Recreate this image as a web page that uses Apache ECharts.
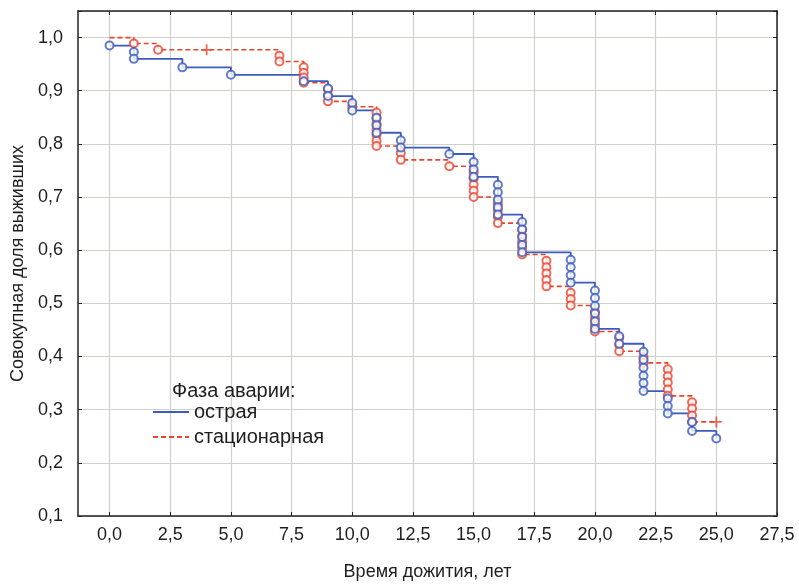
<!DOCTYPE html>
<html><head><meta charset="utf-8">
<script src="https://cdn.jsdelivr.net/npm/echarts@6/dist/echarts.min.js"></script>
<style>html,body{margin:0;padding:0;background:#fff}#c{width:799px;height:586px}</style>
</head><body><div id="c"></div>
<script>
// ---- data ----
const xTicks = [0, 2.5, 5, 7.5, 10, 12.5, 15, 17.5, 20, 22.5, 25, 27.5];
const yTicks = [0.1, 0.2, 0.3, 0.4, 0.5, 0.6, 0.7, 0.8, 0.9, 1.0];

const seriesNames = ['острая', 'стационарная'];

// Kaplan–Meier steps: [time, cumulative survival]
const acuteSteps = [[0,0.985],[1,0.960],[3,0.944],[5,0.930],[8,0.918],[9,0.890],[10,0.863],[11,0.821],[12,0.793],[14,0.781],[15,0.738],[16,0.667],[17,0.596],[19,0.539],[20,0.452],[21,0.424],[22,0.335],[23,0.293],[24,0.260],[25,0.246]];
const statSteps = [[0,1.000],[1,0.989],[2,0.977],[7,0.955],[8,0.915],[9,0.880],[10,0.870],[11,0.796],[12,0.770],[14,0.758],[15,0.700],[16,0.651],[17,0.592],[18,0.532],[19,0.496],[20,0.447],[21,0.410],[22,0.388],[23,0.326],[24,0.277],[25,0.277]];

// complete observations (circles)
const acuteEvents = [[0,0.985],[1,0.973],[1,0.960],[3,0.944],[5,0.930],[8,0.918],[9,0.904],[9,0.890],[10,0.877],[10,0.863],[11,0.849],[11,0.835],[11,0.821],[12,0.807],[12,0.793],[14,0.781],[15,0.766],[15,0.752],[15,0.738],[16,0.723],[16,0.709],[16,0.695],[16,0.681],[16,0.667],[17,0.653],[17,0.639],[17,0.625],[17,0.610],[17,0.596],[19,0.582],[19,0.568],[19,0.553],[19,0.539],[20,0.524],[20,0.510],[20,0.495],[20,0.481],[20,0.466],[20,0.452],[21,0.438],[21,0.424],[22,0.409],[22,0.394],[22,0.379],[22,0.364],[22,0.350],[22,0.335],[23,0.321],[23,0.307],[23,0.293],[24,0.277],[24,0.260],[25,0.246]];
const statEvents = [[1,0.989],[2,0.977],[7,0.966],[7,0.955],[8,0.944],[8,0.934],[8,0.925],[8,0.915],[9,0.903],[9,0.892],[9,0.880],[10,0.870],[11,0.859],[11,0.848],[11,0.838],[11,0.827],[11,0.817],[11,0.806],[11,0.796],[12,0.783],[12,0.770],[14,0.758],[15,0.746],[15,0.735],[15,0.723],[15,0.712],[15,0.700],[16,0.688],[16,0.676],[16,0.663],[16,0.651],[17,0.639],[17,0.627],[17,0.616],[17,0.604],[17,0.592],[18,0.580],[18,0.568],[18,0.556],[18,0.544],[18,0.532],[19,0.520],[19,0.508],[19,0.496],[20,0.484],[20,0.472],[20,0.459],[20,0.447],[21,0.435],[21,0.422],[21,0.410],[22,0.399],[22,0.388],[23,0.376],[23,0.363],[23,0.351],[23,0.338],[23,0.326],[24,0.314],[24,0.302],[24,0.289],[24,0.277]];
// censored observations (+)
const statCensored = [[4,0.977],[25,0.277]];

// ---- chart ----
const BLUE = '#3b5bbd', RED = '#e8432e', TXT = '#1e1e1e';
const FONT = "'Liberation Sans', Arial, sans-serif";
const fmt = v => v.toFixed(1).replace('.', ',');
const plus = 'path://M0,4.2h10v1.6h-10z M4.2,0h1.6v10h-1.6z';

const chart = echarts.init(document.getElementById('c'), null, {renderer: 'canvas'});
const frameLine = {show: true, onZero: false, lineStyle: {color: '#222', width: 1.5}};
const xBase = {type: 'value', min: -1.3, max: 27.5};
chart.setOption({
  animation: false,
  backgroundColor: '#fff',
  textStyle: {fontFamily: FONT},
  grid: {left: 78, right: 22, top: 11, bottom: 64, containLabel: false},
  title: {text: 'Фаза аварии:', left: 167, top: 376,
    textStyle: {fontFamily: FONT, fontSize: 20, fontWeight: 'normal', color: TXT}},
  legend: {data: seriesNames, orient: 'vertical', left: 152, top: 402, padding: 0,
    itemWidth: 36, itemHeight: 12, itemGap: 5,
    itemStyle: {opacity: 0},
    textStyle: {fontFamily: FONT, fontSize: 20, color: TXT}},
  xAxis: [
    Object.assign({}, xBase, {position: 'bottom',
      name: 'Время дожития, лет', nameLocation: 'middle', nameGap: 47,
      nameTextStyle: {fontFamily: FONT, fontSize: 18, color: TXT},
      axisLine: frameLine,
      axisTick: {show: true, inside: true, length: 4, customValues: xTicks, lineStyle: {color: '#222'}},
      axisLabel: {customValues: xTicks, formatter: fmt, fontFamily: FONT, fontSize: 18, color: TXT, margin: 10},
      splitLine: {show: true, lineStyle: {color: '#d3cfcb', width: 1.2}}}),
    Object.assign({}, xBase, {position: 'top',
      axisLine: frameLine,
      axisTick: {show: true, inside: true, length: 4, customValues: xTicks, lineStyle: {color: '#222'}},
      axisLabel: {show: false}, splitLine: {show: false}})
  ],
  yAxis: [
    {type: 'value', min: 0.1, max: 1.05, interval: 0.1, position: 'left',
      name: 'Совокупная доля выживших', nameLocation: 'middle', nameGap: 50,
      nameTextStyle: {fontFamily: FONT, fontSize: 18, color: TXT},
      axisLine: frameLine,
      axisTick: {show: true, inside: true, length: 4, lineStyle: {color: '#222'}},
      axisLabel: {formatter: v => v > 1.001 ? '' : fmt(v), fontFamily: FONT, fontSize: 18, color: TXT, margin: 15},
      splitLine: {show: true, lineStyle: {color: '#d3cfcb', width: 1.2}}},
    {type: 'value', min: 0.1, max: 1.05, interval: 0.1, position: 'right',
      axisLine: frameLine,
      axisTick: {show: true, inside: true, length: 4, lineStyle: {color: '#222'}},
      axisLabel: {show: false}, splitLine: {show: false}}
  ],
  series: [
    {name: seriesNames[1], type: 'line', step: 'end', data: statSteps, showSymbol: false, symbol: 'none',
      lineStyle: {color: RED, width: 1.6, type: [5, 3]}, itemStyle: {color: RED}, z: 2},
    {name: seriesNames[0], type: 'line', step: 'end', data: acuteSteps, showSymbol: false, symbol: 'none',
      lineStyle: {color: BLUE, width: 1.8}, itemStyle: {color: BLUE}, z: 3},
    {name: 'stat-events', type: 'scatter', data: statEvents, symbol: 'emptyCircle', symbolSize: 8,
      itemStyle: {color: RED, borderColor: RED, borderWidth: 1.7}, z: 4},
    {name: 'acute-events', type: 'scatter', data: acuteEvents, symbol: 'emptyCircle', symbolSize: 8,
      itemStyle: {color: BLUE, borderColor: BLUE, borderWidth: 1.7}, z: 5},
    {name: 'stat-censored', type: 'scatter', data: statCensored, symbol: plus, symbolSize: 11,
      itemStyle: {color: RED}, z: 6}
  ]
});
</script>
</body></html>
